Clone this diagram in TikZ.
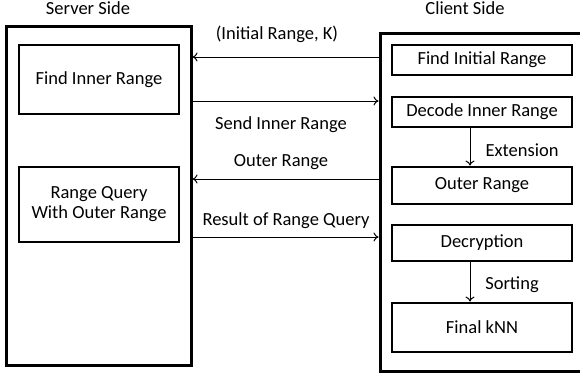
\documentclass[tikz,border=0pt]{standalone}
\usepackage{fontspec}
\setmainfont{Carlito}
\usetikzlibrary{arrows.meta}
\begin{document}
\begin{tikzpicture}[x=1pt,y=-1pt,
  every node/.style={font=\fontsize{18.5}{22}\selectfont, inner sep=0pt},
  bigbox/.style={draw, line width=3pt},
  stepbox/.style={draw, line width=2.8pt, align=center},
  arr/.style={line width=1pt, -{To[length=5pt,width=9pt]}},
  lbl/.style={anchor=center}]
\useasboundingbox (0,0) rectangle (580,378);
\clip (0,0) rectangle (580,378);
% outer boxes
\draw[bigbox] (6.5,26.5) rectangle (191,365);
\node[lbl] (srvlbl) at (88,8) {Server Side};
\draw[bigbox] (380,33) rectangle (600,371);
\node[lbl] (clilbl) at (465,8) {Client Side};
% coordinates at box edges
\coordinate (sE) at (191,0);
\coordinate (cW) at (380,0);
% server inner boxes
\node[stepbox, minimum width=160, minimum height=69] (fir) at (99,79.5) {Find Inner Range};
\node[stepbox, minimum width=160, minimum height=75] (rq) at (99,204.5) {Range Query\\[-2pt]With Outer Range};
% client inner boxes
\node[stepbox, minimum width=180, minimum height=30] (fini) at (482,60) {Find Initial Range};
\node[stepbox, minimum width=180, minimum height=30] (dec) at (482,112) {Decode Inner Range};
\node[stepbox, minimum width=180, minimum height=37] (outr) at (482,185.5) {Outer Range};
\node[stepbox, minimum width=180, minimum height=36] (decr) at (482,243) {Decryption};
\node[stepbox, minimum width=180, minimum height=49] (knn) at (482,327.5) {Final kNN};
% inter-side arrows
\coordinate (a1s) at (380,57);  \coordinate (a1e) at (192.5,57);
\coordinate (a2s) at (192.5,101); \coordinate (a2e) at (378.5,101);
\coordinate (a3s) at (380,179); \coordinate (a3e) at (192.5,179);
\coordinate (a4s) at (192.5,237); \coordinate (a4e) at (378.5,237);
\draw[arr] (a1s) -- (a1e);
\draw[arr] (a2s) -- (a2e);
\draw[arr] (a3s) -- (a3e);
\draw[arr] (a4s) -- (a4e);
\node[lbl] (l1) at (277,34) {(Initial Range, K)};
\node[lbl] (l2) at (281,125) {Send Inner Range};
\node[lbl] (l3) at (281,162) {Outer Range};
\node[lbl] (l4) at (286,221) {Result of Range Query};
% client vertical arrows
\draw[arr] ([xshift=-12pt]dec.south) -- ([xshift=-12pt]outr.north);
\node[lbl] (ext) at (522,150) {Extension};
\draw[arr] ([xshift=-12pt]decr.south) -- ([xshift=-12pt]knn.north);
\node[lbl] (srt) at (512,285) {Sorting};
\end{tikzpicture}
\end{document}
